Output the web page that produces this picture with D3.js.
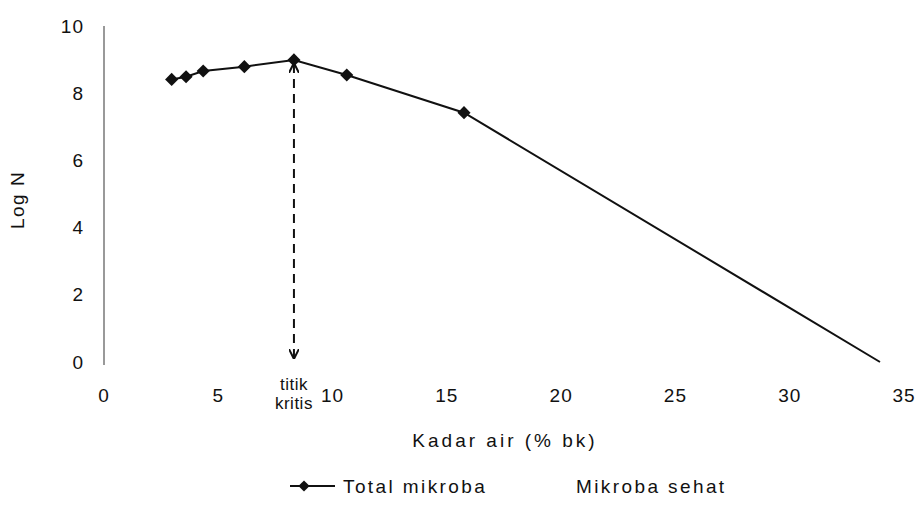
<!DOCTYPE html>
<html>
<head>
<meta charset="utf-8">
<script src="https://cdn.jsdelivr.net/npm/d3@7"></script>
<style>
  body { margin: 0; background: #fff; }
  text { font-family: "Liberation Sans", Arial, sans-serif; fill: #111; }
</style>
</head>
<body>
<div id="chart"></div>
<script>
// moisture content (% bk) and log N of total microbes
const kadarAir = [2.96, 3.59, 4.34, 6.14, 8.31, 10.62, 15.75, 33.95];
const logN = [8.41, 8.49, 8.66, 8.79, 8.99, 8.54, 7.42, 0];
const xTicks = [0, 5, 10, 15, 20, 25, 30, 35];
const yTicks = [0, 2, 4, 6, 8, 10];
const titikKritis = 8.31;

const W = 919, H = 513;
const margin = {top: 26, left: 104};

const svg = d3.select("#chart").append("svg")
    .attr("width", W)
    .attr("height", H);

const g = svg.append("g")
    .attr("transform", "translate(" + margin.left + "," + margin.top + ")");

const x = d3.scaleLinear().domain([0, 35]).range([0, 800]);
const y = d3.scaleLinear().domain([0, 10]).range([336, 0]);

// y axis: plain line, labels only
g.append("line")
    .attr("x1", 0).attr("x2", 0)
    .attr("y1", y(10)).attr("y2", y(0) + 3)
    .attr("stroke", "#777").attr("stroke-width", 1.5);

g.selectAll(".ytick")
    .data(yTicks)
    .enter().append("text")
    .attr("x", -20)
    .attr("y", d => y(d))
    .attr("dy", "0.35em")
    .attr("text-anchor", "end")
    .style("font-size", "19px")
    .style("letter-spacing", "1px")
    .text(d => d);

g.selectAll(".xtick")
    .data(xTicks)
    .enter().append("text")
    .attr("x", d => x(d))
    .attr("y", y(0) + 33)
    .attr("dy", "0.35em")
    .attr("text-anchor", "middle")
    .style("font-size", "19px")
    .style("letter-spacing", "1px")
    .text(d => d);

// axis titles
svg.append("text")
    .attr("transform", "translate(24,200) rotate(-90)")
    .attr("text-anchor", "middle")
    .style("font-size", "19px")
    .style("letter-spacing", "1.5px")
    .text("Log N");

svg.append("text")
    .attr("x", 505).attr("y", 447)
    .attr("text-anchor", "middle")
    .style("font-size", "19px")
    .style("letter-spacing", "3px")
    .text("Kadar air (% bk)");

// arrow markers for the critical point
const defs = svg.append("defs");
defs.append("marker")
    .attr("id", "arrow")
    .attr("viewBox", "0 0 10 10")
    .attr("refX", 9).attr("refY", 5)
    .attr("markerWidth", 5).attr("markerHeight", 5)
    .attr("orient", "auto-start-reverse")
    .append("path")
    .attr("d", "M0,0 L10,5 L0,10")
    .attr("fill", "none")
    .attr("stroke", "#111")
    .attr("stroke-width", 2);

const peak = logN[kadarAir.indexOf(titikKritis)];
g.append("line")
    .attr("x1", x(titikKritis)).attr("x2", x(titikKritis))
    .attr("y1", y(peak) + 4).attr("y2", y(0) - 4)
    .attr("stroke", "#111")
    .attr("stroke-width", 2)
    .attr("stroke-dasharray", "9,6")
    .attr("marker-start", "url(#arrow)")
    .attr("marker-end", "url(#arrow)");

g.append("text")
    .attr("x", x(titikKritis)).attr("y", y(0) + 28)
    .attr("text-anchor", "middle")
    .style("font-size", "17px")
    .style("letter-spacing", "0.5px")
    .text("titik");
g.append("text")
    .attr("x", x(titikKritis)).attr("y", y(0) + 47)
    .attr("text-anchor", "middle")
    .style("font-size", "17px")
    .style("letter-spacing", "0.5px")
    .text("kritis");

// data line
const data = kadarAir.map((k, i) => ({x: k, y: logN[i]}));
g.append("path")
    .datum(data)
    .attr("fill", "none")
    .attr("stroke", "#111")
    .attr("stroke-width", 2)
    .attr("d", d3.line().x(d => x(d.x)).y(d => y(d.y)));

const diamond = d3.symbol().type(d3.symbolDiamond2).size(110);
g.selectAll(".pt")
    .data(data.slice(0, -1))
    .enter().append("path")
    .attr("transform", d => "translate(" + x(d.x) + "," + y(d.y) + ")")
    .attr("d", diamond)
    .attr("fill", "#111");

// legend
const leg = svg.append("g").attr("transform", "translate(290,486)");
leg.append("line")
    .attr("x1", 0).attr("x2", 45)
    .attr("y1", 0).attr("y2", 0)
    .attr("stroke", "#111").attr("stroke-width", 2);
leg.append("path")
    .attr("transform", "translate(14,0)")
    .attr("d", d3.symbol().type(d3.symbolDiamond2).size(80))
    .attr("fill", "#111");
leg.append("text")
    .attr("x", 53).attr("y", 0)
    .attr("dy", "0.35em")
    .style("font-size", "19px")
    .style("letter-spacing", "2.4px")
    .text("Total mikroba");
leg.append("text")
    .attr("x", 286).attr("y", 0)
    .attr("dy", "0.35em")
    .style("font-size", "19px")
    .style("letter-spacing", "2.4px")
    .text("Mikroba sehat");
</script>
</body>
</html>
